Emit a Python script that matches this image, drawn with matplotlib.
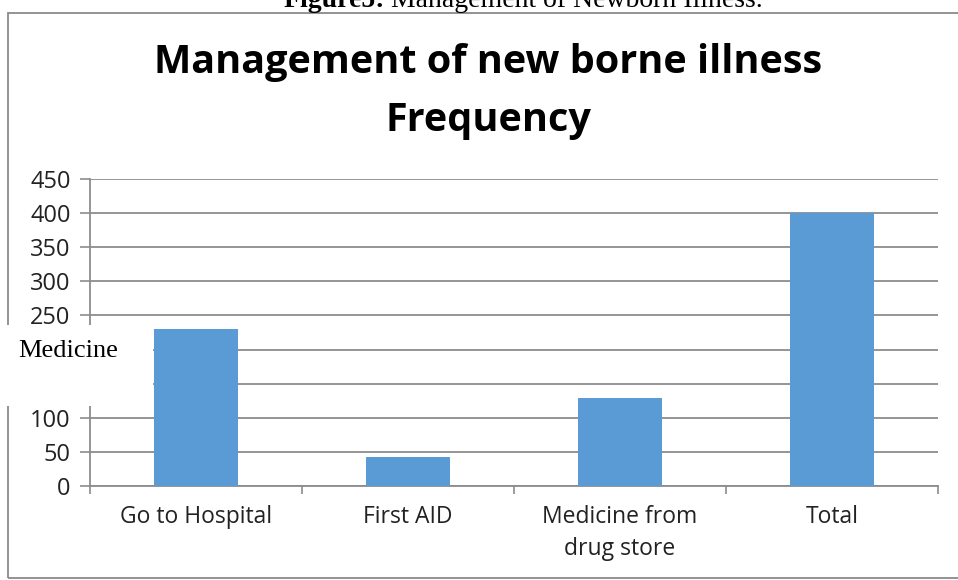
import matplotlib.pyplot as plt
import numpy as np
from matplotlib.patches import Rectangle

# data
categories = ['Go to Hospital', 'First AID', 'Medicine from\ndrug store', 'Total']
frequency = [230, 42, 129, 400]
y_ticks = [0, 50, 100, 150, 200, 250, 300, 350, 400, 450]
hidden_ticks = [150, 200]   # covered by the pasted "Medicine" patch

W, H = 958, 580
fig = plt.figure(figsize=(W / 100, H / 100), dpi=100)
fig.patch.set_facecolor('white')

def fx(px):
    return px / W

def fy(py):
    return 1 - py / H

# outer frame of the embedded chart
fig.add_artist(Rectangle((fx(8), fy(578)), fx(960) - fx(8), fy(13) - fy(578),
                         transform=fig.transFigure, fill=False,
                         edgecolor='#8a8a8a', linewidth=1.3))

# caption, partly above the page edge like in the scan
fig.text(fx(385), fy(7), 'Figure5:', ha='right', va='baseline',
         fontsize=20, fontweight='bold', family='Liberation Serif')
fig.text(fx(391), fy(7), 'Management of Newborn Illness.', ha='left', va='baseline',
         fontsize=20, family='Liberation Serif')

# chart title
fig.text(fx(488), fy(63), 'Management of new borne illness', ha='center', va='center',
         fontsize=28.5, fontweight='bold', family='Open Sans')
fig.text(fx(488), fy(120), 'Frequency', ha='center', va='center',
         fontsize=28.5, fontweight='bold', family='Open Sans')

ax = fig.add_axes([fx(90), fy(486), fx(938) - fx(90), fy(179) - fy(486)])
x = np.arange(len(categories))
ax.bar(x, frequency, width=0.4, color='#5B9BD5', zorder=3)

ax.set_xlim(-0.5, len(categories) - 0.5)
ax.set_ylim(0, 450)
ax.set_yticks(y_ticks)
ax.set_yticklabels(['' if v in hidden_ticks else str(v) for v in y_ticks],
                   fontsize=17, family='Open Sans', color='#222222')
ax.yaxis.grid(True, color='#8c8c8c', linewidth=1.3, zorder=0)

ax.set_xticks(x)
ax.set_xticklabels(categories, fontsize=16.5, family='Open Sans', color='#222222',
                   linespacing=1.4)
ax.tick_params(axis='x', which='major', length=0, pad=14)
ax.set_xticks(np.arange(len(categories) + 1) - 0.5, minor=True)
ax.tick_params(axis='x', which='minor', length=6, color='#8c8c8c', width=1.2)
ax.tick_params(axis='y', length=7, color='#8c8c8c', width=1.2, pad=7)

for side in ['top', 'right']:
    ax.spines[side].set_visible(False)
for side in ['left', 'bottom']:
    ax.spines[side].set_color('#8c8c8c')
    ax.spines[side].set_linewidth(1.3)

# pasted white patch covering part of the axis
fig.add_artist(Rectangle((0, fy(406)), fx(153), fy(325) - fy(406),
                         transform=fig.transFigure, facecolor='white',
                         edgecolor='none', zorder=10))
fig.text(fx(18), fy(351), 'Medicine', ha='left', va='center', fontsize=19,
         family='Liberation Serif', zorder=11)

fig.savefig('out.png', dpi=100)
